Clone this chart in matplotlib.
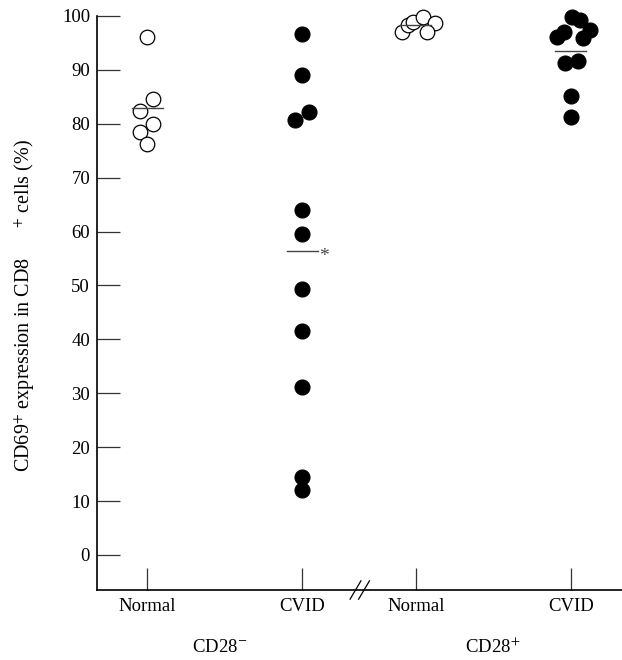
import numpy as np
import matplotlib
matplotlib.use('Agg')
import matplotlib.pyplot as plt

plt.rcParams['font.family'] = ['Liberation Serif', 'DejaVu Serif']
plt.rcParams['mathtext.fontset'] = 'stix'

# group positions on the x axis (gap between 2 and 3 is the axis break)
groups = ['Normal', 'CVID', 'Normal', 'CVID']
positions = [1.0, 2.0, 2.735, 3.735]

# CD69+ expression (%) per subject, with a small sideways offset for overlapping dots
cd28neg_normal = [96.1, 84.6, 82.4, 80.0, 78.5, 76.3]
cd28neg_normal_dx = [0.0, 0.04, -0.045, 0.04, -0.045, 0.0]

cd28neg_cvid = [96.7, 89.1, 82.2, 80.7, 64.0, 59.6, 49.4, 41.6, 31.2, 14.5, 12.1]
cd28neg_cvid_dx = [0.0, 0.0, 0.045, -0.045, 0.0, 0.0, 0.0, 0.0, 0.0, 0.0, 0.0]

cd28pos_normal = [97.0, 98.3, 98.9, 99.8, 98.7, 97.0]
cd28pos_normal_dx = [-0.09, -0.05, -0.02, 0.045, 0.12, 0.07]

cd28pos_cvid = [99.8, 99.3, 96.1, 97.0, 97.4, 95.9, 91.3, 91.7, 85.2, 81.3]
cd28pos_cvid_dx = [0.005, 0.06, -0.09, -0.045, 0.12, 0.075, -0.04, 0.045, 0.0, 0.0]

series = [
    (cd28neg_normal, cd28neg_normal_dx, False),
    (cd28neg_cvid, cd28neg_cvid_dx, True),
    (cd28pos_normal, cd28pos_normal_dx, False),
    (cd28pos_cvid, cd28pos_cvid_dx, True),
]

fig = plt.figure(figsize=(6.22, 6.60), dpi=100)
ax = fig.add_axes([97 / 622, 70 / 660, 525 / 622, 574 / 660])

for pos, (vals, dx, filled) in zip(positions, series):
    xs = pos + np.array(dx)
    if filled:
        ax.plot(xs, vals, 'o', ms=10.8, mfc='black', mec='black', mew=0.8,
                ls='none', clip_on=False, zorder=3)
    else:
        ax.plot(xs, vals, 'o', ms=10.5, mfc='white', mec='black', mew=0.9,
                ls='none', clip_on=False, zorder=3)
    m = np.mean(vals)
    ax.plot([pos - 0.1, pos + 0.1], [m, m], color='#444444', lw=1.0, zorder=4,
            clip_on=False)

# significance mark on CD28- CVID mean
ax.text(positions[1] + 0.108, np.mean(cd28neg_cvid) - 1.0, '*', color='#444444',
        fontsize=14, ha='left', va='center')

ax.set_xlim(1 - 50 / 155, 3.735 + 51 / 155)
ax.set_ylim(-6.5, 100)
ax.set_yticks(np.arange(0, 101, 10))
ax.set_xticks(positions)
ax.set_xticklabels(groups)

for s in ['top', 'right']:
    ax.spines[s].set_visible(False)
for s in ['left', 'bottom']:
    ax.spines[s].set_linewidth(1.2)
    ax.spines[s].set_color('black')

ax.tick_params(axis='y', direction='in', length=16.5, width=0.9, pad=5,
               labelsize=13.5, color='#333333')
ax.tick_params(axis='x', direction='in', length=16, width=0.9, pad=6,
               labelsize=13.5, color='#333333')

# axis break marks
for off in [0.0, 0.055]:
    ax.plot([2.31 + off, 2.38 + off], [-8.2, -4.8], color='black', lw=0.9,
            clip_on=False, zorder=5)

ax.text(1.47, -0.1, 'CD28$^{-}$', transform=ax.get_xaxis_transform(),
        ha='center', va='center', fontsize=13.5)
ax.text(3.232, -0.1, 'CD28$^{+}$', transform=ax.get_xaxis_transform(),
        ha='center', va='center', fontsize=13.5)

fig.text(25 / 622, 1 - 306 / 660,
         'CD69$^{+}$ expression in CD8      $^{+}$ cells (%)',
         rotation=90, ha='center', va='center', fontsize=14.5)

fig.savefig('out.png', dpi=100)
